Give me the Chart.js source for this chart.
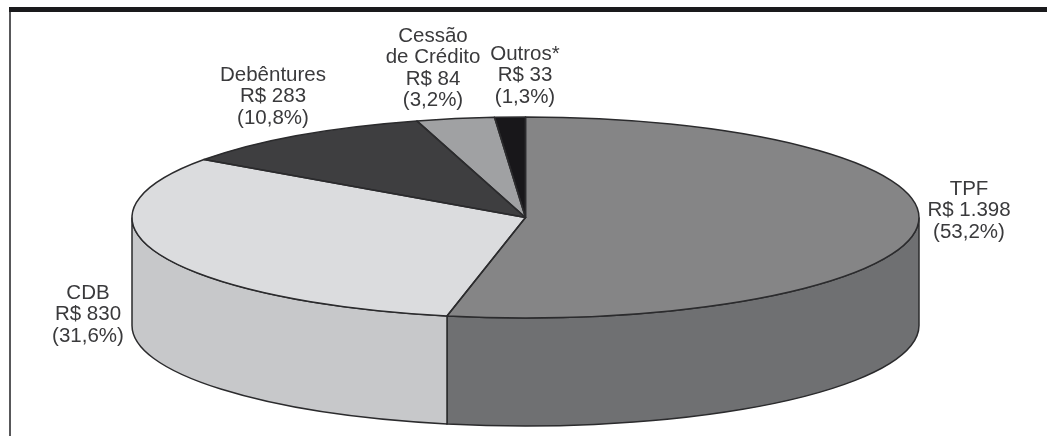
<!DOCTYPE html>
<html>
<head>
<meta charset="utf-8">
<title>Composição</title>
<script src="https://cdn.jsdelivr.net/npm/chart.js@4/dist/chart.umd.min.js"></script>
<style>
  html, body { margin: 0; background: #fff; }
  #box { width: 1047px; height: 436px; }
</style>
</head>
<body>
<div id="box"><canvas id="chartPie" width="1047" height="436"></canvas></div>
<script>
const categories = ['TPF', 'CDB', 'Debêntures', 'Cessão de Crédito', 'Outros*'];
const values = [1398, 830, 283, 84, 33];
const valueLabels = ['R$ 1.398', 'R$ 830', 'R$ 283', 'R$ 84', 'R$ 33'];
const percentLabels = ['(53,2%)', '(31,6%)', '(10,8%)', '(3,2%)', '(1,3%)'];
const nameLines = [['TPF'], ['CDB'], ['Debêntures'], ['Cessão', 'de Crédito'], ['Outros*']];

const topColors = ['#858586', '#dbdcde', '#3e3e40', '#a0a1a3', '#18171a'];
const wallColors = ['#6f7072', '#c7c8ca', '#2e2e30', '#88898b', '#101012'];

// disc flattening and wall height
const TILT = 100.5 / 393.5;
const DEPTH = 108;
const EDGE = '#2b2b2d';

// center of each label block, first line baseline comes from here
const labelPos = [
  { x: 969, y: 189 }, { x: 88, y: 293 }, { x: 273, y: 75 }, { x: 433, y: 36 }, { x: 525, y: 54 },
];
const LINE_H = 21.5;

const arcsOf = (chart) => chart.getDatasetMeta(0).data.map(a =>
  a.getProps(['x', 'y', 'startAngle', 'endAngle', 'outerRadius'], true));

// part of an arc facing the viewer, angles normalised so 0..PI is the front
const frontSpan = (a) => {
  const tau = Math.PI * 2;
  let s = a.startAngle, e = a.endAngle;
  while (s < 0) { s += tau; e += tau; }
  const spans = [];
  if (s < Math.PI) spans.push([s, Math.min(e, Math.PI)]);
  if (e > tau) spans.push([tau, Math.min(e, tau + Math.PI)]);
  return spans;
};

const pie3d = {
  id: 'pie3d',
  beforeDraw(chart) {
    const { ctx } = chart;
    // page frame: heavy rule on top, thin one down the left
    ctx.save();
    ctx.fillStyle = '#1a1a1c';
    ctx.fillRect(9, 7, 1038, 5);
    ctx.fillStyle = '#58585a';
    ctx.fillRect(9, 12, 2, 424);
    ctx.restore();
  },
  beforeDatasetsDraw(chart) {
    const { ctx } = chart;
    const arcs = arcsOf(chart);
    ctx.save();
    ctx.lineWidth = 1.5;
    ctx.strokeStyle = EDGE;
    arcs.forEach((a, i) => {
      frontSpan(a).forEach(([s, e]) => {
        const rx = a.outerRadius, ry = rx * TILT;
        ctx.beginPath();
        ctx.ellipse(a.x, a.y, rx, ry, 0, s, e);
        ctx.ellipse(a.x, a.y + DEPTH, rx, ry, 0, e, s, true);
        ctx.closePath();
        ctx.fillStyle = wallColors[i];
        ctx.fill();
        ctx.stroke();
      });
    });
    ctx.restore();

    // squash the disc the library is about to draw
    const { x, y } = arcs[0];
    ctx.save();
    ctx.translate(x, y);
    ctx.scale(1, TILT);
    ctx.translate(-x, -y);
  },
  afterDatasetsDraw(chart) {
    const { ctx } = chart;
    ctx.restore();
    ctx.save();
    ctx.lineWidth = 1.5;
    ctx.strokeStyle = EDGE;
    ctx.lineJoin = 'round';
    arcsOf(chart).forEach(a => {
      ctx.beginPath();
      ctx.moveTo(a.x, a.y);
      ctx.ellipse(a.x, a.y, a.outerRadius, a.outerRadius * TILT, 0, a.startAngle, a.endAngle);
      ctx.closePath();
      ctx.stroke();
    });

    ctx.fillStyle = '#3a3a3c';
    ctx.font = '20.5px "Liberation Sans", Arial, sans-serif';
    ctx.textAlign = 'center';
    ctx.textBaseline = 'middle';
    categories.forEach((c, i) => {
      const lines = [...nameLines[i], valueLabels[i], percentLabels[i]];
      lines.forEach((t, n) => ctx.fillText(t, labelPos[i].x, labelPos[i].y + n * LINE_H));
    });
    ctx.restore();
  },
};

new Chart(document.getElementById('chartPie'), {
  type: 'pie',
  data: {
    labels: categories,
    datasets: [{ data: values, backgroundColor: topColors, borderWidth: 0, clip: false }],
  },
  options: {
    responsive: false,
    animation: false,
    radius: 393.5,
    layout: { padding: { left: 4, bottom: 1 } },
    plugins: { legend: { display: false }, tooltip: { enabled: false } },
  },
  plugins: [pie3d],
});
</script>
</body>
</html>
